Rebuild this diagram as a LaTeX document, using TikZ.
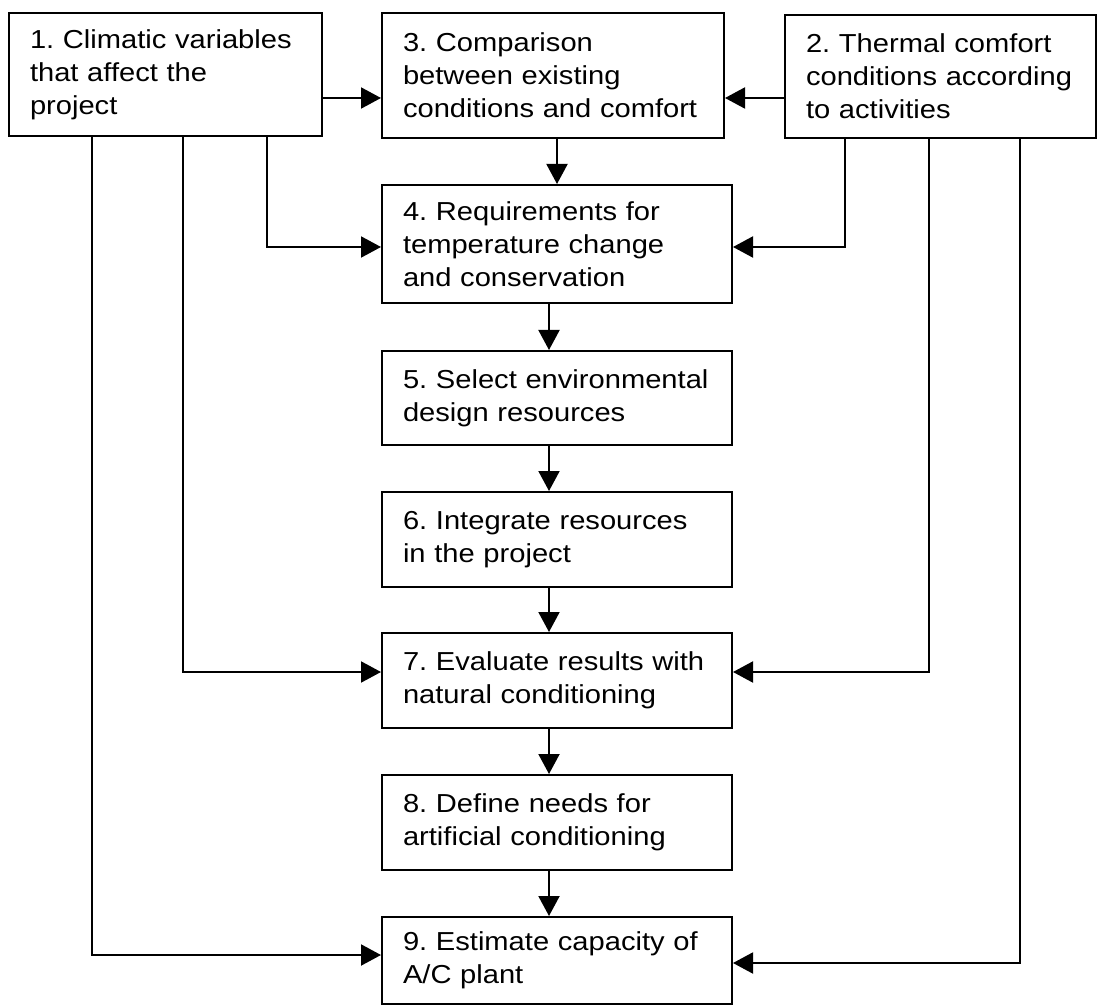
\documentclass[tikz,border=0pt]{standalone}
\usepackage{fontspec}
\setmainfont{Liberation Sans}[FakeStretch=1.12]
\usetikzlibrary{arrows.meta}
\frenchspacing
\hyphenpenalty=10000
\exhyphenpenalty=10000

\begin{document}
\begin{tikzpicture}[x=0.5pt, y=-0.5pt, line width=1pt,
    >={Triangle[length=10pt, width=10.5pt]},
    box/.style={draw, rectangle, anchor=north west, inner xsep=10.5pt, inner ysep=0pt,
        align=left, text width=154pt, font=\fontsize{13pt}{16.5pt}\selectfont}]

    \useasboundingbox[fill=white] (0,0) rectangle (1097,1005);

    % === 上排三個方塊 ===
    \node[box, text width=135.5pt, minimum height=61.5pt] (b1) at (8,12) {1. Climatic variables\\that affect the\\project};
    \node[box, text width=150pt, minimum height=62.5pt] (b3) at (381,12) {3. Comparison\\between existing\\conditions and comfort};
    \node[box, text width=134.5pt, minimum height=61.5pt] (b2) at (784,14) {2. Thermal comfort\\conditions according\\to activities};

    % === 中間一列 ===
    \node[box, minimum height=59pt] (b4) at (381,184) {4. Requirements for\\temperature change\\and conservation};
    \node[box, minimum height=47pt] (b5) at (381,350) {5. Select environmental\\design resources};
    \node[box, minimum height=47.5pt] (b6) at (381,491) {6. Integrate resources\\in the project};
    \node[box, minimum height=47.5pt] (b7) at (381,632) {7. Evaluate results with\\natural conditioning};
    \node[box, minimum height=47.5pt] (b8) at (381,774) {8. Define needs for\\artificial conditioning};
    \node[box, minimum height=43.5pt] (b9) at (381,916) {9. Estimate capacity of\\A/C plant};

    % 轉折點
    \coordinate (top) at (0,98);
    \coordinate (s1) at (557,0);
    \coordinate (s2) at (549,0);
    \coordinate (c1a) at (267,247);
    \coordinate (c1b) at (183,672);
    \coordinate (c1c) at (92,955);
    \coordinate (c2a) at (845,247);
    \coordinate (c2b) at (929,672);
    \coordinate (c2c) at (1020,963);

    % === 上排箭頭 ===
    \draw[->] (b1.east |- top) -- (b3.west |- top);
    \draw[->] (b2.west |- top) -- (b3.east |- top);

    % === 中間往下 ===
    \draw[->] (b3.south -| s1) -- (b4.north -| s1);
    \draw[->] (b4.south -| s2) -- (b5.north -| s2);
    \draw[->] (b5.south -| s2) -- (b6.north -| s2);
    \draw[->] (b6.south -| s2) -- (b7.north -| s2);
    \draw[->] (b7.south -| s2) -- (b8.north -| s2);
    \draw[->] (b8.south -| s2) -- (b9.north -| s2);

    % === 左邊 (1) ===
    \draw[->] (b1.south -| c1a) |- (b4.west |- c1a);
    \draw[->] (b1.south -| c1b) |- (b7.west |- c1b);
    \draw[->] (b1.south -| c1c) |- (b9.west |- c1c);

    % === 右邊 (2) ===
    \draw[->] (b2.south -| c2a) |- (b4.east |- c2a);
    \draw[->] (b2.south -| c2b) |- (b7.east |- c2b);
    \draw[->] (b2.south -| c2c) |- (b9.east |- c2c);

\end{tikzpicture}
\end{document}
